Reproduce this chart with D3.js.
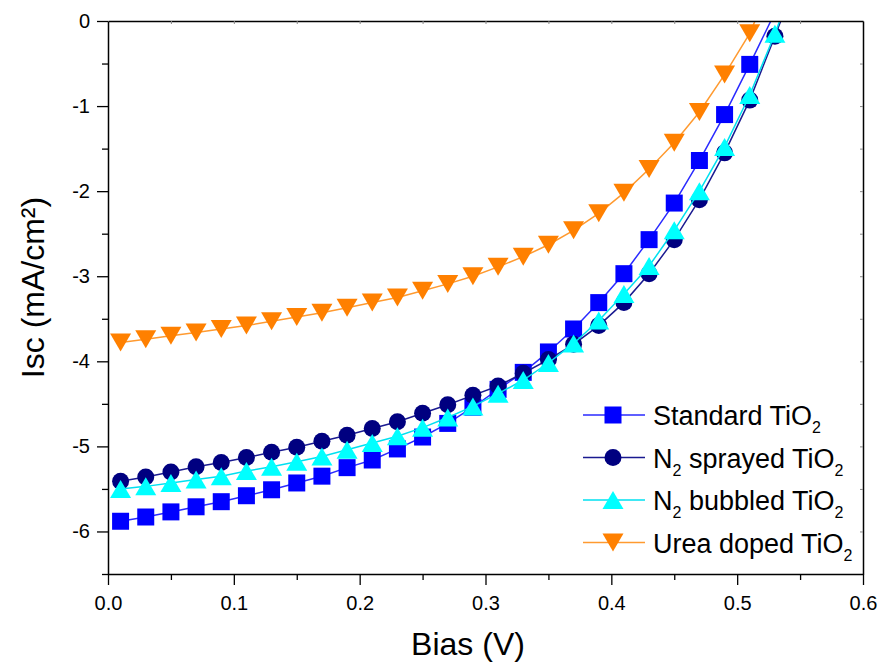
<!DOCTYPE html>
<html>
<head>
<meta charset="utf-8">
<script src="https://cdn.jsdelivr.net/npm/d3@7"></script>
<style>
  body { margin: 0; background: #fff; }
  svg { display: block; font-family: "Liberation Sans", Arial, sans-serif; }
</style>
</head>
<body>
<svg id="chart"></svg>
<script>
// J-V curves of TiO2 cells

const bias = [0.01, 0.03, 0.05, 0.07, 0.09, 0.11, 0.13, 0.15, 0.17, 0.19, 0.21, 0.23, 0.25, 0.27,
  0.29, 0.31, 0.33, 0.35, 0.37, 0.39, 0.41, 0.43, 0.45, 0.47, 0.49, 0.51, 0.53, 0.55];

const standard = [-5.88, -5.83, -5.77, -5.71, -5.65, -5.58, -5.51, -5.43, -5.35, -5.25, -5.16, -5.03, -4.89, -4.73,
  -4.54, -4.33, -4.13, -3.89, -3.62, -3.31, -2.97, -2.57, -2.14, -1.64, -1.10, -0.51, 0.10];
const sprayed = [-5.41, -5.36, -5.30, -5.24, -5.19, -5.13, -5.07, -5.01, -4.94, -4.87, -4.79, -4.71, -4.61, -4.51,
  -4.40, -4.29, -4.14, -3.98, -3.80, -3.58, -3.31, -2.97, -2.57, -2.10, -1.55, -0.93, -0.18, 0.60];
const bubbled = [-5.50, -5.47, -5.43, -5.39, -5.35, -5.29, -5.24, -5.18, -5.12, -5.04, -4.96, -4.88, -4.78, -4.66,
  -4.53, -4.38, -4.22, -4.02, -3.79, -3.52, -3.21, -2.88, -2.46, -2.00, -1.48, -0.87, -0.15, 0.65];
const urea = [-3.78, -3.74, -3.70, -3.66, -3.62, -3.58, -3.53, -3.48, -3.43, -3.37, -3.31, -3.25, -3.17, -3.09,
  -3.00, -2.89, -2.77, -2.63, -2.46, -2.26, -2.02, -1.74, -1.43, -1.07, -0.63, -0.145, 0.55];

const xTicks = [0.0, 0.1, 0.2, 0.3, 0.4, 0.5, 0.6];
const yTicks = [0, -1, -2, -3, -4, -5, -6];

const series = [
  { name: 'Standard TiO', pre: '', values: standard, shape: 'square', fill: '#0000ff', line: '#2a2aff' },
  { name: ' sprayed TiO', pre: 'N', values: sprayed, shape: 'circle', fill: '#000080', line: '#1a1a90' },
  { name: ' bubbled TiO', pre: 'N', values: bubbled, shape: 'up', fill: '#00ffff', line: '#00e0f0' },
  { name: 'Urea doped TiO', pre: '', values: urea, shape: 'down', fill: '#ff8000', line: '#ff9a30' }
];

const width = 880, height = 663;
const margin = { top: 21, right: 17, bottom: 89, left: 108 };
const chartWidth = width - margin.left - margin.right;
const chartHeight = height - margin.top - margin.bottom;

const svg = d3.select('#chart').attr('width', width).attr('height', height);

const xScale = d3.scaleLinear().domain([0, 0.6]).range([0, chartWidth]);
const yScale = d3.scaleLinear().domain([-6.5, 0]).range([chartHeight, 0]);

const g = svg.append('g').attr('transform', `translate(${margin.left},${margin.top})`);

g.append('clipPath').attr('id', 'plot-clip')
  .append('rect').attr('width', chartWidth).attr('height', chartHeight);

// marker path for each shape
function markerPath(shape) {
  if (shape === 'square') return 'M-8.5,-8.5H8.5V8.5H-8.5Z';
  if (shape === 'circle') return d3.symbol(d3.symbolCircle, Math.PI * 8.5 * 8.5)();
  if (shape === 'up') return 'M0,-9L10.5,9L-10.5,9Z';
  return 'M0,9L10.5,-9L-10.5,-9Z';
}

const line = d3.line()
  .x((d, i) => xScale(bias[i]))
  .y(d => yScale(d));

const plot = g.append('g').attr('clip-path', 'url(#plot-clip)');

series.forEach(s => {
  const grp = plot.append('g');
  grp.append('path')
    .attr('d', line(s.values))
    .attr('fill', 'none')
    .attr('stroke', s.line)
    .attr('stroke-width', 1.5);
  grp.selectAll('path.marker')
    .data(s.values)
    .enter()
    .append('path')
    .attr('class', 'marker')
    .attr('transform', (d, i) => `translate(${xScale(bias[i])},${yScale(d)})`)
    .attr('d', markerPath(s.shape))
    .attr('fill', s.fill);
});

// Axes
const xAxis = g.append('g')
  .attr('transform', `translate(0,${chartHeight})`)
  .call(d3.axisBottom(xScale).tickValues(xTicks).tickFormat(d3.format('.1f')).tickSize(11).tickSizeOuter(0));
xAxis.selectAll('text').attr('dy', '1.1em').style('font-size', '20px').style('fill', '#000');
xAxis.selectAll('line').attr('stroke-width', 1.3);

g.append('g')
  .attr('transform', `translate(0,${chartHeight})`)
  .call(d3.axisBottom(xScale).tickValues(d3.range(0.05, 0.6, 0.1)).tickFormat('').tickSize(6).tickSizeOuter(0))
  .call(a => a.select('.domain').remove())
  .selectAll('line').attr('stroke-width', 1.3);

const yAxis = g.append('g')
  .call(d3.axisLeft(yScale).tickValues(yTicks).tickFormat(d => d).tickSize(11).tickSizeOuter(0));
yAxis.selectAll('text').attr('x', -18).style('font-size', '20px').style('fill', '#000');
yAxis.selectAll('line').attr('stroke-width', 1.3);

g.append('g')
  .call(d3.axisLeft(yScale).tickValues(d3.range(-6.5, 0, 1)).tickFormat('').tickSize(6).tickSizeOuter(0))
  .call(a => a.select('.domain').remove())
  .selectAll('line').attr('stroke-width', 1.3);

// top and right frame with small inward ticks
g.append('g')
  .call(d3.axisTop(xScale).tickValues(d3.range(0.05, 0.6, 0.05)).tickFormat('').tickSize(-3).tickSizeOuter(0))
  .call(a => a.selectAll('line').attr('stroke', '#888'));
g.append('g')
  .attr('transform', `translate(${chartWidth},0)`)
  .call(d3.axisRight(yScale).tickValues(d3.range(-6, 0, 0.5)).tickFormat('').tickSize(-3).tickSizeOuter(0))
  .call(a => a.selectAll('line').attr('stroke', '#888'));

g.selectAll('.domain').attr('stroke', '#000').attr('stroke-width', 1.5);

// Axis titles
svg.append('text')
  .attr('x', 468)
  .attr('y', 655)
  .attr('text-anchor', 'middle')
  .style('font-size', '32px')
  .text('Bias (V)');

svg.append('text')
  .attr('transform', `translate(44,${margin.top + chartHeight / 2 - 10}) rotate(-90)`)
  .attr('text-anchor', 'middle')
  .style('font-size', '32px')
  .text('Isc (mA/cm²)');

// Legend
const legend = svg.append('g').attr('transform', 'translate(583,415)');
series.forEach((s, i) => {
  const row = legend.append('g').attr('transform', `translate(0,${i * 42.5})`);
  row.append('line').attr('x1', 0).attr('x2', 62).attr('stroke', s.line).attr('stroke-width', 1.5);
  row.append('path').attr('transform', 'translate(30,0)').attr('d', markerPath(s.shape)).attr('fill', s.fill);
  const t = row.append('text').attr('x', 70).attr('y', 10).style('font-size', '27px');
  if (s.pre) {
    t.append('tspan').text(s.pre);
    t.append('tspan').attr('dy', 8).style('font-size', '16px').text('2');
    t.append('tspan').attr('dy', -8).text(s.name);
  } else {
    t.append('tspan').text(s.name);
  }
  t.append('tspan').attr('dy', 8).style('font-size', '16px').text('2');
});
</script>
</body>
</html>
